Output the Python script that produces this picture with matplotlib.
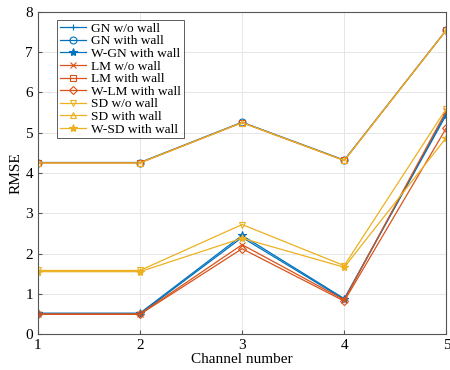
import numpy as np
import matplotlib
matplotlib.use("Agg")
import matplotlib.pyplot as plt

plt.rcParams['font.family'] = ['Liberation Serif', 'DejaVu Serif']

channels = [1, 2, 3, 4, 5]

gn_wo = [0.50, 0.50, 2.40, 0.86, 5.50]
gn_with = [4.26, 4.26, 5.26, 4.32, 7.55]
wgn_with = [0.52, 0.52, 2.45, 0.88, 5.45]
lm_wo = [0.50, 0.50, 2.22, 0.85, 5.55]
lm_with = [4.25, 4.25, 5.25, 4.31, 7.55]
wlm_with = [0.49, 0.49, 2.12, 0.82, 5.12]
sd_wo = [1.58, 1.58, 2.72, 1.70, 5.60]
sd_with = [4.25, 4.25, 5.25, 4.31, 7.55]
wsd_with = [1.55, 1.55, 2.38, 1.66, 4.88]

blue = "#0072BD"
orange = "#D95319"
yellow = "#EDB120"

series = [
    ("GN w/o wall", gn_wo, blue, "+"),
    ("GN with wall", gn_with, blue, "o"),
    ("W-GN with wall", wgn_with, blue, "*"),
    ("LM w/o wall", lm_wo, orange, "x"),
    ("LM with wall", lm_with, orange, "s"),
    ("W-LM with wall", wlm_with, orange, "D"),
    ("SD w/o wall", sd_wo, yellow, "v"),
    ("SD with wall", sd_with, yellow, "^"),
    ("W-SD with wall", wsd_with, yellow, "*"),
]

fig = plt.figure(figsize=(4.5, 3.7), dpi=100)
ax = fig.add_axes([0.084, 0.097, 0.908, 0.871])

for label, vals, c, m in series:
    ms = 6 if m in ("*",) else 5
    if m == "D":
        ms = 4.5
    ax.plot(channels, vals, color=c, marker=m, markersize=ms, linewidth=0.9,
            markerfacecolor='none' if m not in ("+", "x", "*") else c,
            markeredgewidth=0.8, label=label)

ax.set_xlim(1, 5)
ax.set_ylim(0, 8)
ax.set_xticks(channels)
ax.set_yticks(np.arange(0, 9, 1))
ax.grid(True, color="#e6e6e6", linewidth=0.7)
ax.set_axisbelow(True)
ax.tick_params(labelsize=11, direction='in', length=3, color="#555555")
for sp in ax.spines.values():
    sp.set_color("#555555")
    sp.set_linewidth(0.8)
ax.set_xlabel("Channel number", fontsize=11, labelpad=1)
ax.set_ylabel("RMSE", fontsize=11, labelpad=2)

leg = ax.legend(loc='upper left', bbox_to_anchor=(0.047, 0.975), fontsize=9.6,
                frameon=True, fancybox=False, edgecolor="#333333",
                handlelength=2.0, labelspacing=0.02, borderpad=0.2,
                handletextpad=0.35, borderaxespad=0)
leg.get_frame().set_linewidth(0.7)

plt.savefig("out.png", dpi=100)
